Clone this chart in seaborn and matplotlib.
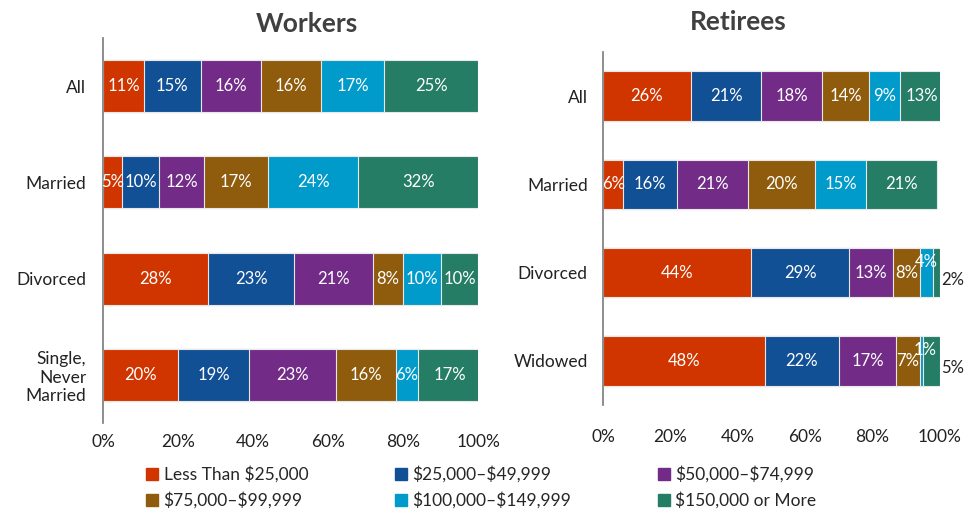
import matplotlib.pyplot as plt
import numpy as np
import pandas as pd
import seaborn as sns

brackets = ['Less Than $25,000', '$25,000–$49,999', '$50,000–$74,999',
            '$75,000–$99,999', '$100,000–$149,999', '$150,000 or More']
colors = ['#D03500', '#125096', '#722C87', '#8F5B0C', '#009BCB', '#247D64']

worker_groups = ['All', 'Married', 'Divorced', 'Single,\nNever\nMarried']
worker_vals = [[11, 15, 16, 16, 17, 25],
               [5, 10, 12, 17, 24, 32],
               [28, 23, 21, 8, 10, 10],
               [20, 19, 23, 16, 6, 17]]

retiree_groups = ['All', 'Married', 'Divorced', 'Widowed']
retiree_vals = [[26, 21, 18, 14, 9, 13],
                [6, 16, 21, 20, 15, 21],
                [44, 29, 13, 8, 4, 2],
                [48, 22, 17, 7, 1, 5]]

sns.set_theme(style='white')
plt.rcParams['font.family'] = ['Lato', 'DejaVu Sans']
plt.rcParams['text.parse_math'] = False


def stacked(ax, groups, vals, title, bar_h, title_pad, title_x, outside_last=False):
    df = pd.DataFrame(vals, columns=brackets)
    df['group'] = groups
    cum = df[brackets].cumsum(axis=1)
    # draw cumulative totals from widest to narrowest so they stack
    for i in range(len(brackets) - 1, -1, -1):
        sns.barplot(x=cum[brackets[i]], y=df['group'], orient='h', color=colors[i],
                    width=bar_h, edgecolor='#e8e8e8', linewidth=0.8, ax=ax,
                    saturation=1)
    for r, g in enumerate(groups):
        left = 0
        for i, v in enumerate(vals[r]):
            cx = left + v / 2
            if outside_last and i == len(brackets) - 1 and v <= 5:
                ax.text(left + v + 0.3, r + 0.08, f'{v}%', ha='left', va='center',
                        color='#222222', fontsize=12)
            elif v <= 1:
                ax.text(cx + 1, r - 0.12, f'{v}%', ha='center', va='center',
                        color='white', fontsize=12)
            elif v <= 4:
                ax.text(cx, r - 0.12, f'{v}%', ha='center', va='center',
                        color='white', fontsize=12)
            else:
                ax.text(cx, r, f'{v}%', ha='center', va='center', color='white',
                        fontsize=12)
            left += v
    ax.set_xlim(0, 100)
    ax.set_ylim(len(groups) - 0.5, -0.5)
    ax.set_xticks(range(0, 101, 20))
    ax.set_xticklabels([f'{t}%' for t in range(0, 101, 20)])
    ax.set_xlabel('')
    ax.set_ylabel('')
    ax.set_title(title, fontsize=19, fontweight='bold', color='#404040',
                 pad=title_pad, x=title_x)
    for s in ['top', 'right', 'bottom']:
        ax.spines[s].set_visible(False)
    ax.spines['left'].set_color('#808080')
    ax.tick_params(axis='both', length=0, labelsize=12.5, colors='#222222')


fig = plt.figure(figsize=(9.67, 5.14), dpi=100)
ax1 = fig.add_axes([0.1065, 0.177, 0.388, 0.749])
ax2 = fig.add_axes([0.6236, 0.212, 0.3485, 0.687])

stacked(ax1, worker_groups, worker_vals, 'Workers', 0.54, 4, 0.544)
stacked(ax2, retiree_groups, retiree_vals, 'Retirees', 0.56, 16, 0.40,
        outside_last=True)
ax1.tick_params(axis='x', pad=8)
ax2.tick_params(axis='x', pad=17)
ax1.tick_params(axis='y', pad=12)
ax2.tick_params(axis='y', pad=11)

# legend filled row by row
order = [0, 3, 1, 4, 2, 5]
handles = [plt.Rectangle((0, 0), 1, 1, color=colors[i]) for i in order]
labels = [brackets[i] for i in order]
fig.legend(handles, labels, loc='lower left', bbox_to_anchor=(0.135, -0.02),
           ncol=3, frameon=False, fontsize=12.5, handlelength=0.7, handleheight=0.7,
           handletextpad=0.3, columnspacing=5.0, labelspacing=0.5)

fig.savefig('out.png', dpi=100)
